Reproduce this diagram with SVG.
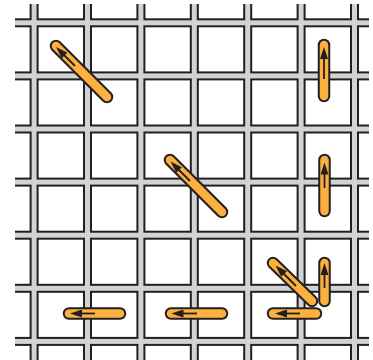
<svg xmlns="http://www.w3.org/2000/svg" width="373" height="360" viewBox="0 0 373 360">
<defs>
<style>
.hb{fill:#231f20}
.g{fill:#d1d3d4}
.so{stroke:#231f20;stroke-width:12.5;stroke-linecap:round;fill:none}
.si{stroke:#fbb040;stroke-width:8.5;stroke-linecap:round;fill:none}
.ar{stroke:#231f20;stroke-width:1.8;fill:none;marker-end:url(#ah)}
</style>
<marker id="ah" markerUnits="userSpaceOnUse" markerWidth="12" markerHeight="8" refX="5" refY="4" orient="auto" viewBox="0 0 12 8">
<path d="M0,0 L12,4 L0,8 Z" fill="#231f20"/>
</marker>
</defs>
<rect width="373" height="360" fill="#fff"/>
<g id="grid">
<g id="black-edges" class="hb">
<rect x="15" y="18.3" width="354" height="9"/>
<rect x="15" y="71.4" width="354" height="9"/>
<rect x="15" y="124.5" width="354" height="9"/>
<rect x="15" y="177.6" width="354" height="9"/>
<rect x="15" y="230.7" width="354" height="9"/>
<rect x="15" y="283.8" width="354" height="9"/>
<rect x="15" y="336.9" width="354" height="9"/>
<rect x="29.6" y="4" width="9" height="356"/>
<rect x="83" y="4" width="9" height="356"/>
<rect x="136.4" y="4" width="9" height="356"/>
<rect x="189.8" y="4" width="9" height="356"/>
<rect x="243.2" y="4" width="9" height="356"/>
<rect x="296.6" y="4" width="9" height="356"/>
<rect x="350" y="4" width="9" height="356"/>
</g>
<g id="gray-threads" class="g">
<rect x="15" y="20.3" width="354" height="5"/>
<rect x="15" y="73.4" width="354" height="5"/>
<rect x="15" y="126.5" width="354" height="5"/>
<rect x="15" y="179.6" width="354" height="5"/>
<rect x="15" y="232.7" width="354" height="5"/>
<rect x="15" y="285.8" width="354" height="5"/>
<rect x="15" y="338.9" width="354" height="5"/>
<rect x="31.6" y="4" width="5" height="356"/>
<rect x="85" y="4" width="5" height="356"/>
<rect x="138.4" y="4" width="5" height="356"/>
<rect x="191.8" y="4" width="5" height="356"/>
<rect x="245.2" y="4" width="5" height="356"/>
<rect x="298.6" y="4" width="5" height="356"/>
<rect x="352" y="4" width="5" height="356"/>
</g>
</g>
<g id="stitch-diag-1">
<line class="so" x1="56" y1="46" x2="107" y2="97"/>
<line class="si" x1="56" y1="46" x2="107" y2="97"/>
<line class="ar" x1="75" y1="66" x2="61" y2="52"/>
</g>
<g id="stitch-vert-1">
<line class="so" x1="324" y1="45" x2="324" y2="96"/>
<line class="si" x1="324" y1="45" x2="324" y2="96"/>
<line class="ar" x1="324" y1="79" x2="324" y2="54"/>
</g>
<g id="stitch-diag-2">
<line class="so" x1="170" y1="160" x2="222" y2="212"/>
<line class="si" x1="170" y1="160" x2="222" y2="212"/>
<line class="ar" x1="190" y1="181" x2="175.5" y2="166.5"/>
</g>
<g id="stitch-vert-2">
<line class="so" x1="324.5" y1="160" x2="324.5" y2="211"/>
<line class="si" x1="324.5" y1="160" x2="324.5" y2="211"/>
<line class="ar" x1="324.5" y1="188" x2="324.5" y2="169.5"/>
</g>
<g id="stitch-diag-3">
<line class="so" x1="273" y1="263" x2="312" y2="301"/>
<line class="si" x1="273" y1="263" x2="312" y2="301"/>
<line class="ar" x1="296" y1="286" x2="280.5" y2="270.5"/>
</g>
<g id="stitch-horiz-1">
<line class="so" x1="69" y1="313.5" x2="120" y2="313.5"/>
<line class="si" x1="69" y1="313.5" x2="120" y2="313.5"/>
<line class="ar" x1="95" y1="313.5" x2="77" y2="313.5"/>
</g>
<g id="stitch-horiz-2">
<line class="so" x1="171" y1="313.5" x2="222" y2="313.5"/>
<line class="si" x1="171" y1="313.5" x2="222" y2="313.5"/>
<line class="ar" x1="197" y1="313.5" x2="178.5" y2="313.5"/>
</g>
<g id="stitch-horiz-3">
<line class="so" x1="273" y1="313.5" x2="316" y2="313.5"/>
<line class="si" x1="273" y1="313.5" x2="316" y2="313.5"/>
<line class="ar" x1="300" y1="313.5" x2="282" y2="313.5"/>
</g>
<g id="stitch-vert-3">
<line class="so" x1="324.5" y1="263" x2="324.5" y2="301"/>
<line class="si" x1="324.5" y1="263" x2="324.5" y2="301"/>
<line class="ar" x1="324.5" y1="288" x2="324.5" y2="270"/>
</g>
<g id="connectors"/>
</svg>
